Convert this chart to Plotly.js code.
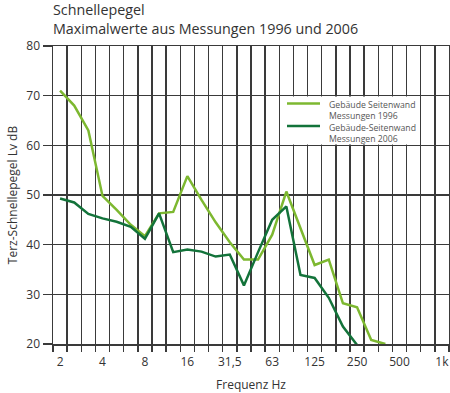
<!DOCTYPE html>
<html>
<head>
<meta charset="utf-8">
<script src="https://cdn.plot.ly/plotly-3.0.1.min.js"></script>
<style>html,body{margin:0;padding:0;background:#fff;}#chart{width:450px;height:393px;}</style>
</head>
<body>
<div id="chart"></div>
<script>
// Third-octave band centre frequencies (Hz)
const bands = ['2','2.5','3.15','4','5','6.3','8','10','12.5','16','20','25','31.5','40','50','63','80','100','125','160','200','250','315','400','500','630','800','1000'];
// Labelled bands and their tick texts
const tickBands = ['2','4','8','16','31.5','63','125','250','500','1000'];
const tickLabels = ['2','4','8','16','31,5','63','125','250','500','1k'];
// Series: Terz-Schnellepegel Lv dB
const bands1996 = ['2','2.5','3.15','4','5','6.3','8','10','12.5','16','20','25','31.5','40','50','63','80','100','125','160','200','250','315','400'];
const lv1996 = [71, 68, 63, 49.8, 47, 44, 41.7, 46.3, 46.6, 53.8, 49, 44.5, 40.5, 37, 37, 42, 50.7, 43.5, 35.9, 37, 28.2, 27.4, 20.8, 20];
const bands2006 = ['2','2.5','3.15','4','5','6.3','8','10','12.5','16','20','25','31.5','40','50','63','80','100','125','160','200','250'];
const lv2006 = [49.3, 48.5, 46.2, 45.3, 44.6, 43.6, 41.2, 46.3, 38.5, 39, 38.6, 37.6, 38, 31.8, 38.5, 45, 47.7, 33.9, 33.3, 29.3, 23.5, 19.8];
const seriesLines = [['Gebäude Seitenwand', 'Messungen 1996'], ['Gebäude-Seitenwand', 'Messungen 2006']];
const colors = ['#7db830', '#13733a'];

const idx = b => bands.indexOf(b);
const gridC = '#3a3a3a';
const textC = '#333';
const fam = 'Open Sans, Noto Sans, sans-serif';

// plot box in pixels (from margins) -> paper coords helpers for the legend box
const M = {l: 53, r: 1, t: 46, b: 49}, W = 450, H = 393;
const pw = W - M.l - M.r, ph = H - M.t - M.b;
const px = v => (v - M.l) / pw;
const py = v => (H - M.b - v) / ph;

const traces = [
  {x: bands1996.map(idx), y: lv1996, type: 'scatter', mode: 'lines', name: seriesLines[0].join(' '),
   line: {color: colors[0], width: 2.5}},
  {x: bands2006.map(idx), y: lv2006, type: 'scatter', mode: 'lines', name: seriesLines[1].join(' '),
   line: {color: colors[1], width: 2.5}}
];

// Legend (drawn in a white cell of the grid)
const legendRows = [103.5, 126];
const shapes = [
  {type: 'rect', xref: 'x', yref: 'y', x0: 15.56, x1: 25.44, y0: 60.17, y1: 69.83,
   fillcolor: '#fff', line: {width: 0}, layer: 'above'}
].concat(legendRows.map((r, i) => ({
  type: 'line', xref: 'paper', yref: 'paper', x0: px(287), x1: px(320), y0: py(r), y1: py(r),
  line: {color: colors[i], width: 2.5}, layer: 'above'
})));
const annotations = legendRows.map((r, i) => ({
  text: seriesLines[i].join('<br>'), xref: 'paper', yref: 'paper', x: px(328), y: py(r - 5.5),
  xanchor: 'left', yanchor: 'top', align: 'left', showarrow: false, borderpad: 0,
  font: {size: 8.7, color: '#555', family: fam}
}));

const layout = {
  width: W, height: H,
  margin: M,
  paper_bgcolor: '#fff', plot_bgcolor: '#fff',
  font: {family: fam, color: textC, size: 12},
  showlegend: false,
  title: {text: 'Schnellepegel<br>Maximalwerte aus Messungen 1996 und 2006',
          xref: 'container', x: 53/450, xanchor: 'left',
          yref: 'container', y: 1 - 15/393, yanchor: 'top',
          font: {size: 14.3, color: textC, family: fam}},
  xaxis: {
    range: [-0.5, bands.length - 0.5],
    tickmode: 'array', tickvals: tickBands.map(idx), ticktext: tickLabels,
    ticks: 'outside', ticklen: 6, tickcolor: 'rgba(0,0,0,0)',
    showgrid: false, zeroline: false,
    showline: true, linecolor: gridC, linewidth: 1.5, mirror: true,
    tickfont: {size: 12, color: textC},
    title: {text: 'Frequenz Hz', font: {size: 12, color: textC}, standoff: 14},
    minor: {tickmode: 'linear', tick0: -0.5, dtick: 1, ticks: 'outside', ticklen: 6,
            tickcolor: gridC, tickwidth: 1.4, showgrid: true, gridcolor: gridC, gridwidth: 1.4}
  },
  yaxis: {
    range: [20, 80], tickmode: 'linear', tick0: 20, dtick: 10,
    ticks: 'outside', ticklen: 9, tickcolor: gridC, tickwidth: 1.4,
    showgrid: true, gridcolor: gridC, gridwidth: 1.4, zeroline: false,
    showline: true, linecolor: gridC, linewidth: 1.5, mirror: true,
    tickfont: {size: 12, color: textC},
    title: {text: 'Terz-Schnellepegel Lv dB', font: {size: 12, color: textC}, standoff: 6}
  },
  shapes: shapes,
  annotations: annotations
};

Plotly.newPlot('chart', traces, layout, {displayModeBar: false, staticPlot: true});
</script>
</body>
</html>
